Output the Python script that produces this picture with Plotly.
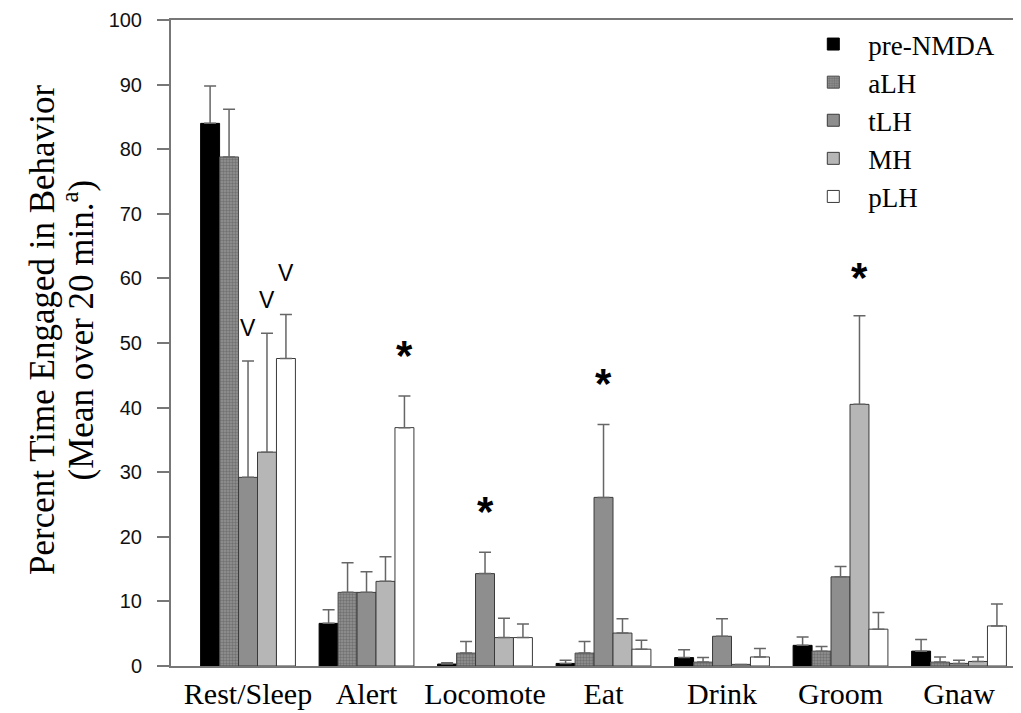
import plotly.graph_objects as go

categories = ["Rest/Sleep", "Alert", "Locomote", "Eat", "Drink", "Groom", "Gnaw"]
series = ["pre-NMDA", "aLH", "tLH", "MH", "pLH"]

pre_nmda = [84.0, 6.6, 0.3, 0.4, 1.3, 3.2, 2.3]
alh = [78.8, 11.4, 2.0, 2.0, 0.6, 2.3, 0.6]
tlh = [29.2, 11.4, 14.3, 26.1, 4.6, 13.8, 0.4]
mh = [33.1, 13.1, 4.4, 5.1, 0.25, 40.5, 0.7]
plh = [47.6, 36.9, 4.4, 2.6, 1.4, 5.7, 6.2]

pre_nmda_err = [5.8, 2.1, 0.2, 0.5, 1.2, 1.3, 1.8]
alh_err = [7.4, 4.6, 1.8, 1.8, 0.7, 0.7, 0.8]
tlh_err = [18.0, 3.2, 3.3, 11.3, 2.7, 1.6, 0.5]
mh_err = [18.4, 3.8, 3.0, 2.2, 0.0, 13.7, 0.7]
plh_err = [6.8, 4.9, 2.1, 1.4, 1.3, 2.6, 3.4]

values = [pre_nmda, alh, tlh, mh, plh]
errors = [pre_nmda_err, alh_err, tlh_err, mh_err, plh_err]

# significance marks
mark_cat = ["Rest/Sleep", "Rest/Sleep", "Rest/Sleep", "Alert", "Locomote", "Eat", "Groom"]
mark_series = ["tLH", "MH", "pLH", "pLH", "tLH", "tLH", "MH"]
mark_text = ["V", "V", "V", "*", "*", "*", "*"]
mark_y = [52.4, 56.7, 60.9, 48.1, 23.9, 43.7, 60.1]

styles = [
    dict(color="#000000", line=dict(color="#000000", width=1)),
    dict(color="#808080", line=dict(color="#4a4a4a", width=1),
         pattern=dict(shape=".", fgcolor="#505050", bgcolor="#939393", size=3, solidity=0.5)),
    dict(color="#8e8e8e", line=dict(color="#3a3a3a", width=1)),
    dict(color="#b6b6b6", line=dict(color="#3a3a3a", width=1)),
    dict(color="#ffffff", line=dict(color="#3a3a3a", width=1)),
]

xpos = list(range(len(categories)))
group_width = 0.8
bar_w = group_width / len(series)

fig = go.Figure()
for k, name in enumerate(series):
    fig.add_trace(go.Bar(
        x=xpos, y=values[k], name=name, marker=styles[k],
        error_y=dict(type="data", array=errors[k], arrayminus=[0] * len(categories),
                     symmetric=False, color="#666666", thickness=1.5, width=6),
    ))

for c, s, t, yv in zip(mark_cat, mark_series, mark_text, mark_y):
    xv = categories.index(c) + (series.index(s) - (len(series) - 1) / 2) * bar_w
    if t == "*":
        font = dict(family="Liberation Sans", size=42, color="#000000")
        txt = "<b>*</b>"
    else:
        font = dict(family="Liberation Sans", size=23, color="#000000")
        txt = t
    fig.add_annotation(x=xv, y=yv, xref="x", yref="y", text=txt, showarrow=False,
                       font=font, xanchor="center", yanchor="middle")

fig.add_annotation(x=-0.152, y=0.52, xref="paper", yref="paper", textangle=-90,
                   text="Percent Time Engaged in Behavior", showarrow=False,
                   font=dict(family="Liberation Serif", size=35, color="#000000"),
                   xanchor="center", yanchor="middle")
fig.add_annotation(x=-0.109, y=0.52, xref="paper", yref="paper", textangle=-90,
                   text="(Mean over 20 min.<sup>a</sup>)", showarrow=False,
                   font=dict(family="Liberation Serif", size=35, color="#000000"),
                   xanchor="center", yanchor="middle")

fig.update_layout(
    width=1013, height=705,
    margin=dict(l=163, r=0, t=12, b=47, pad=0),
    paper_bgcolor="white", plot_bgcolor="white",
    barmode="group", bargap=1 - group_width, bargroupgap=0,
    showlegend=True,
    legend=dict(x=0.738, y=1.0, xanchor="left", yanchor="top",
                font=dict(family="Liberation Serif", size=27, color="#000000"),
                bgcolor="rgba(0,0,0,0)", itemwidth=60, tracegroupgap=0),
    xaxis=dict(range=[-0.65, 6.523], tickvals=xpos, ticktext=categories,
               showgrid=False, zeroline=False, showline=True, linecolor="#777777",
               linewidth=2, mirror=True, ticks="",
               tickfont=dict(family="Liberation Serif", size=30, color="#000000")),
    yaxis=dict(range=[0, 100], dtick=10, showgrid=False, zeroline=False,
               showline=True, linecolor="#777777", linewidth=2, ticks="outside",
               ticklen=12, tickwidth=1.5, tickcolor="#777777", ticklabelstandoff=11,
               tickfont=dict(family="Liberation Sans", size=20, color="#111111")),
)

fig.write_html("out.html")
